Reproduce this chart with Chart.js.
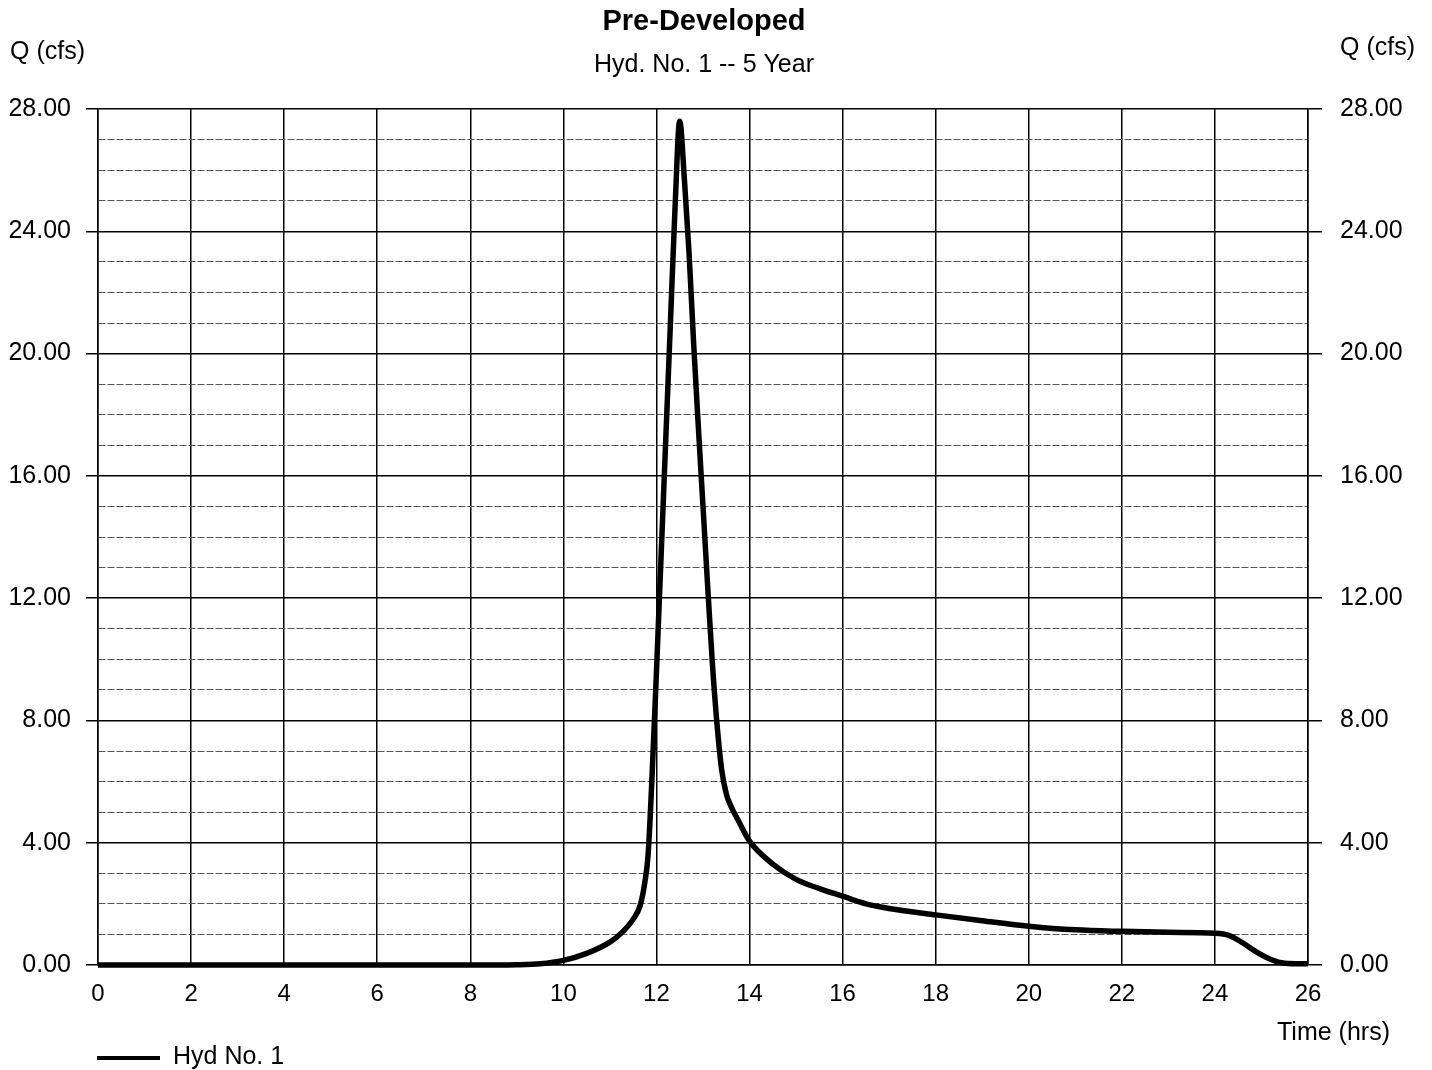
<!DOCTYPE html>
<html>
<head>
<meta charset="utf-8">
<script src="https://cdn.jsdelivr.net/npm/chart.js@4/dist/chart.umd.min.js"></script>
<style>
  html, body { margin: 0; background: #fff; }
  #wrap { width: 1432px; height: 1070px; position: relative; }
</style>
</head>
<body>
<div id="wrap"><canvas id="hydChart"></canvas></div>
<script>
// hydrograph (hrs, cfs)
const hours = [0, 2, 4, 6, 8, 9, 9.5, 10, 10.5, 11, 11.25, 11.5, 11.65, 11.75, 11.82, 11.9, 12.0,
  12.1, 12.2, 12.3, 12.4, 12.5, 12.6, 12.7, 12.8, 12.9, 13.0, 13.1, 13.2, 13.3, 13.4, 13.5,
  13.6, 13.75, 14.0, 14.5, 15.0, 15.5, 16.0, 16.5, 17.0, 18.0, 19.0, 20.0, 21.0, 22.0, 23.0,
  24.0, 24.3, 24.6, 24.9, 25.2, 25.5, 26.0];
const flow = [0, 0, 0, 0, 0, 0.01, 0.04, 0.15, 0.38, 0.75, 1.05, 1.5, 1.95, 2.7, 3.6, 6.0, 9.6,
  13.4, 17.2, 21.0, 24.8, 27.6, 25.7, 23.3, 20.3, 17.6, 15.0, 12.4, 9.9, 7.9, 6.4, 5.6,
  5.2, 4.75, 4.05, 3.3, 2.8, 2.5, 2.25, 2.0, 1.85, 1.64, 1.45, 1.27, 1.15, 1.1, 1.07,
  1.04, 0.97, 0.72, 0.42, 0.18, 0.06, 0.04];

const xTicks = { min: 0, max: 26, step: 2 };
const yTicks = { min: 0, max: 28, step: 1, major: 4 };

const FONT = 'Liberation Sans, Arial, sans-serif';

const isMajor = ctx => ctx.tick && ctx.tick.value % yTicks.major === 0;

const yAxis = (pos, width, tickLen, pad, onChart) => ({
  type: 'linear',
  position: pos,
  min: yTicks.min,
  max: yTicks.max,
  ticks: {
    stepSize: yTicks.step,
    autoSkip: false,
    padding: pad,
    color: '#000',
    font: { family: FONT, size: 25 },
    callback: v => v % yTicks.major === 0 ? v.toFixed(2) : ''
  },
  grid: {
    drawOnChartArea: onChart,
    color: c => isMajor(c) ? '#000' : '#555',
    lineWidth: c => isMajor(c) ? 1.5 : 1,
    tickLength: tickLen,
    tickColor: c => isMajor(c) ? '#000' : 'rgba(0,0,0,0)'
  },
  border: {
    color: '#000',
    width: 1.5,
    dash: c => (c.tick && !isMajor(c)) ? [7, 2] : []
  },
  afterFit: s => { s.width = width; }
});

const labelsPlugin = {
  id: 'hydLabels',
  afterDraw(chart) {
    const ctx = chart.ctx;
    ctx.save();
    ctx.fillStyle = '#000';
    ctx.textBaseline = 'middle';

    ctx.textAlign = 'center';
    ctx.font = 'bold 29px ' + FONT;
    ctx.fillText('Pre-Developed', 704, 22);
    ctx.font = '25px ' + FONT;
    ctx.fillText('Hyd. No. 1 -- 5 Year', 704, 65);

    ctx.textAlign = 'left';
    ctx.fillText('Q (cfs)', 10, 52);
    ctx.fillText('Q (cfs)', 1340, 48);
    ctx.fillText('Time (hrs)', 1277, 1033);
    ctx.fillText('Hyd No. 1', 173, 1057);

    ctx.strokeStyle = '#000';
    ctx.lineWidth = 4;
    ctx.beginPath();
    ctx.moveTo(97, 1058);
    ctx.lineTo(160, 1058);
    ctx.stroke();
    ctx.restore();
  }
};

new Chart(document.getElementById('hydChart'), {
  type: 'line',
  data: {
    datasets: [{
      label: 'Hyd No. 1',
      data: hours.map((h, i) => ({ x: h, y: flow[i] })),
      borderColor: '#000',
      borderWidth: 5.5,
      pointRadius: 0,
      fill: false,
      cubicInterpolationMode: 'monotone',
      clip: 5
    }]
  },
  options: {
    responsive: true,
    maintainAspectRatio: false,
    devicePixelRatio: 1,
    animation: false,
    layout: { padding: { top: 109, left: 0, right: 0, bottom: 0 } },
    plugins: {
      legend: { display: false },
      title: { display: false },
      tooltip: { enabled: false }
    },
    scales: {
      x: {
        type: 'linear',
        min: xTicks.min,
        max: xTicks.max,
        ticks: {
          stepSize: xTicks.step,
          padding: 15,
          color: '#000',
          font: { family: FONT, size: 24 }
        },
        grid: { color: '#000', lineWidth: 1.5, drawTicks: false },
        border: { color: '#000', width: 1.5 },
        afterFit: s => { s.height = 105; }
      },
      y: yAxis('left', 98, 12, 15, true),
      y2: yAxis('right', 124, 14, 18, false)
    }
  },
  plugins: [labelsPlugin]
});
</script>
</body>
</html>
